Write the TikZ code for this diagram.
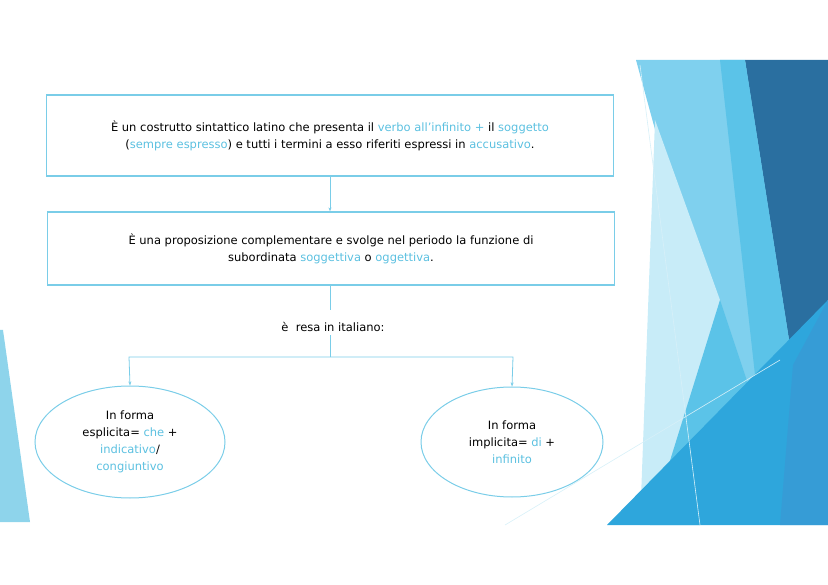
\documentclass[tikz,border=0pt]{standalone}
\usepackage{fontspec}
\setmainfont{DejaVu Sans}
\usetikzlibrary{arrows.meta,shapes.geometric}
\definecolor{acc}{HTML}{5BC0E0}
\definecolor{lnc}{HTML}{7ACDE8}
\definecolor{dA}{HTML}{7FD0EE}
\definecolor{dB}{HTML}{2A6FA0}
\definecolor{dC}{HTML}{5BC3E8}
\definecolor{dD}{HTML}{C8ECF8}
\definecolor{dE}{HTML}{2EA6DC}
\definecolor{dF}{HTML}{3C96D2}
\newcommand{\ac}[1]{\textcolor{acc}{#1}}
\tikzset{x=1pt,y=-1pt,
 box/.style={draw=lnc,line width=1.2pt,minimum width=567pt,align=center,font=\fontsize{11.5}{17}\selectfont},
 ell/.style={draw=lnc,line width=1pt,ellipse,align=center,font=\fontsize{11.5}{17}\selectfont},
 con/.style={draw=lnc,line width=0.8pt},
 arr/.style={con,-{Stealth[length=4pt,width=3pt]}}}
\begin{document}
\begin{tikzpicture}
\useasboundingbox (0,0) rectangle (828,585);
% left decoration
\fill[lnc!85] (0,330) -- (3,330) -- (30,522) -- (0,522) -- cycle;
% right decoration
\fill[dA] (636,60) -- (745,60) -- (800,330) -- (740,440) -- cycle;
\fill[dB] (745,60) -- (828,60) -- (828,300) -- (793,365) -- cycle;
\fill[dC] (720,60) -- (745,60) -- (793,365) -- (760,420) -- cycle;
\fill[dD] (655,120) -- (720,300) -- (700,400) -- (650,525) -- (640,525) -- cycle;
\fill[dC] (720,300) -- (760,420) -- (700,525) -- (650,525) -- cycle;
\fill[dE] (607,525) -- (828,300) -- (828,525) -- cycle;
\fill[dF,opacity=.6] (793,365) -- (828,300) -- (828,525) -- (780,525) -- cycle;
\draw[white!70!lnc,line width=0.6pt] (640,65) -- (700,525);
\draw[white!70!lnc,line width=0.6pt] (505,525) -- (780,360);
% boxes
\node[box,minimum height=81pt] (b1) at (330,135.5) {È un costrutto sintattico latino che presenta il \ac{verbo all’infinito +} il \ac{soggetto}\\(\ac{sempre espresso}) e tutti i termini a esso riferiti espressi in \ac{accusativo}.};
\node[box,minimum height=73pt] (b2) at (331,248.5) {È una proposizione complementare e svolge nel periodo la funzione di\\subordinata \ac{soggettiva} o \ac{oggettiva}.};
\draw[arr] (b1.south -| 330,0) -- (b2.north -| 330,0);
\node[font=\fontsize{11.5}{14}\selectfont] (t) at (333,327) {è\ \ resa in italiano:};
\coordinate (c0) at (330,310);
\draw[con] (b2.south -| 330,0) -- (c0);
\node[ell,minimum width=190pt,minimum height=112pt] (e1) at (130,442) {In forma\\esplicita= \ac{che} +\\\ac{indicativo}/\\\ac{congiuntivo}};
\node[ell,minimum width=182pt,minimum height=110pt] (e2) at (512,442) {In forma\\implicita= \ac{di} +\\\ac{infinito}};
\coordinate (l) at (129,357); \coordinate (r) at (513,357); \coordinate (m) at (330,357);
\draw[con] (t.south -| m) -- (m);
\draw[arr] (m) -- (l) -- (e1.north);
\draw[arr] (m) -- (r) -- (e2.north);
\end{tikzpicture}
\end{document}
